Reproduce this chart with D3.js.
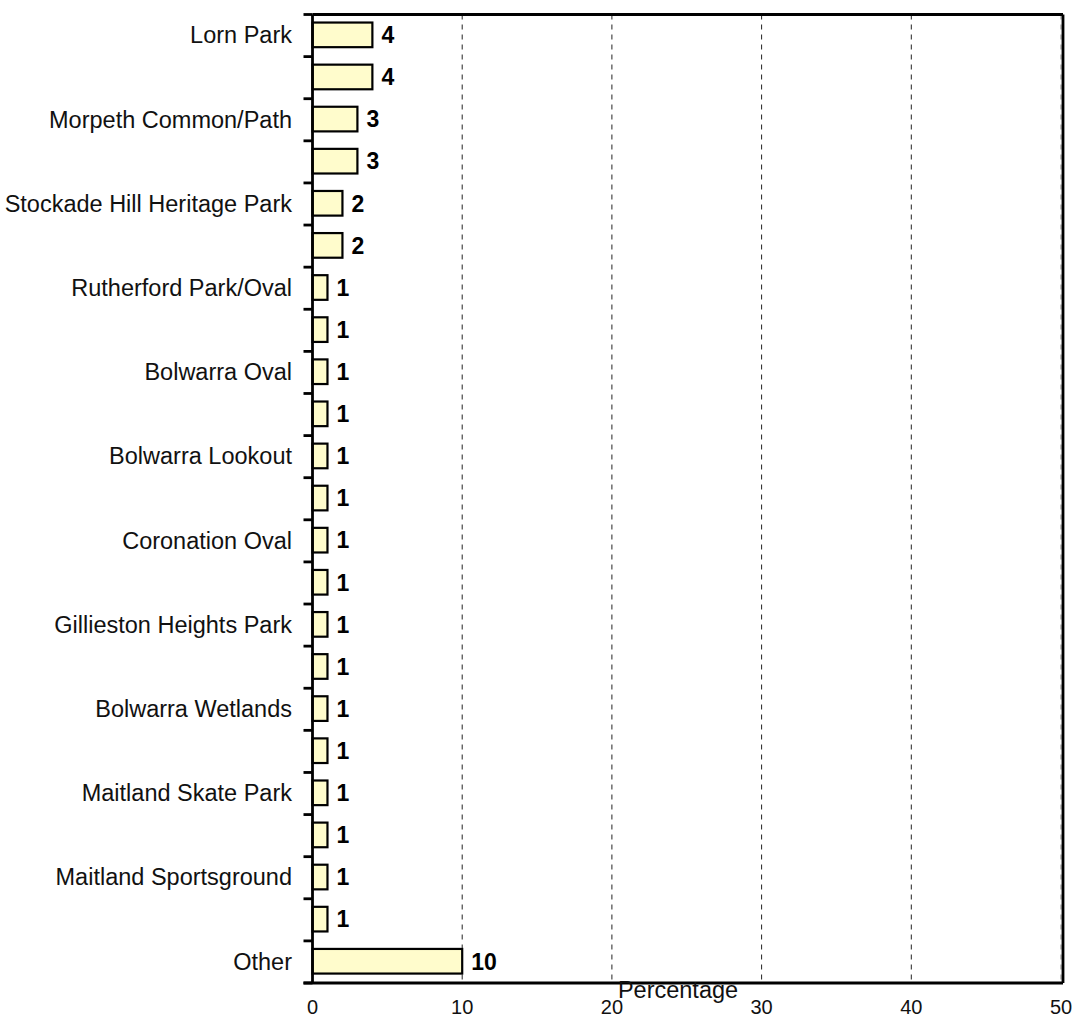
<!DOCTYPE html>
<html>
<head>
<meta charset="utf-8">
<script src="https://cdn.jsdelivr.net/npm/d3@7"></script>
<style>
  html, body { margin: 0; padding: 0; background: #fff; }
  svg { display: block; font-family: "Liberation Sans", Arial, sans-serif; }
</style>
</head>
<body>
<svg id="chart" width="1077" height="1018"></svg>
<script>
// Places visited: share of respondents (%)
const categories = [
  "Lorn Park", "", "Morpeth Common/Path", "", "Stockade Hill Heritage Park", "",
  "Rutherford Park/Oval", "", "Bolwarra Oval", "", "Bolwarra Lookout", "",
  "Coronation Oval", "", "Gillieston Heights Park", "", "Bolwarra Wetlands", "",
  "Maitland Skate Park", "", "Maitland Sportsground", "", "Other"
];
const values = [4, 4, 3, 3, 2, 2, 1, 1, 1, 1, 1, 1, 1, 1, 1, 1, 1, 1, 1, 1, 1, 1, 10];
const xTicks = [0, 10, 20, 30, 40, 50];
const xTitle = "Percentage";

(function draw() {
  const svg = d3.select("#chart");
  const x0 = 312.5, x1 = 1061;
  const y0 = 14.5, y1 = 983;

  const rows = categories.map((c, i) => ({ i, label: c, value: values[i] }));

  const x = d3.scaleLinear().domain([0, 50]).range([x0, x1]);
  const y = d3.scaleBand().domain(rows.map(d => d.i)).range([y0, y1])
    .paddingInner(0.415).paddingOuter(0.2075);

  // dashed gridlines
  svg.append("g").selectAll("line").data(xTicks.filter(t => t > 0)).join("line")
    .attr("x1", d => x(d)).attr("x2", d => x(d))
    .attr("y1", y0).attr("y2", y1)
    .attr("stroke", d => d === 50 ? "#888" : "#222")
    .attr("stroke-width", 1)
    .attr("stroke-dasharray", "5,5");

  // bars
  svg.append("g").selectAll("rect").data(rows).join("rect")
    .attr("x", x(0))
    .attr("y", d => y(d.i) - 0.7)
    .attr("width", d => x(d.value) - x(0))
    .attr("height", y.bandwidth())
    .attr("fill", "#FFFCCC")
    .attr("stroke", "#000")
    .attr("stroke-width", 2.2);

  // value labels
  svg.append("g").selectAll("text").data(rows).join("text")
    .attr("x", d => x(d.value) + 9)
    .attr("y", d => y(d.i) + y.bandwidth() / 2 - 0.7)
    .attr("dy", "0.36em")
    .attr("font-size", 23)
    .attr("font-weight", "bold")
    .attr("fill", "#000")
    .text(d => d.value);

  // frame: top and right borders
  svg.append("line").attr("x1", x0).attr("x2", x1 + 2).attr("y1", y0).attr("y2", y0)
    .attr("stroke", "#000").attr("stroke-width", 2.8);
  svg.append("line").attr("x1", x1 + 2).attr("x2", x1 + 2).attr("y1", y0).attr("y2", y1)
    .attr("stroke", "#000").attr("stroke-width", 2.8);

  // y axis with ticks at band boundaries
  const yAxisG = svg.append("g");
  yAxisG.append("line").attr("x1", x0).attr("x2", x0).attr("y1", y0).attr("y2", y1)
    .attr("stroke", "#000").attr("stroke-width", 2.8);
  const boundaries = d3.range(rows.length + 1).map(k => y0 + k * (y1 - y0) / rows.length);
  yAxisG.selectAll("line.tick").data(boundaries).join("line")
    .attr("class", "tick")
    .attr("x1", x0 - 9).attr("x2", x0)
    .attr("y1", d => d).attr("y2", d => d)
    .attr("stroke", "#000").attr("stroke-width", 2.8);
  yAxisG.selectAll("text").data(rows.filter(d => d.label)).join("text")
    .attr("x", 292)
    .attr("y", d => y(d.i) + y.bandwidth() / 2 - 0.7)
    .attr("dy", "0.36em")
    .attr("text-anchor", "end")
    .attr("font-size", 23.5)
    .attr("fill", "#111")
    .text(d => d.label);

  // x axis
  const xAxisG = svg.append("g");
  xAxisG.append("line").attr("x1", x0 - 9).attr("x2", x1 + 2).attr("y1", y1).attr("y2", y1)
    .attr("stroke", "#000").attr("stroke-width", 2.8);
  xAxisG.selectAll("text").data(xTicks).join("text")
    .attr("x", d => x(d))
    .attr("y", 1014)
    .attr("text-anchor", "middle")
    .attr("font-size", 20)
    .attr("fill", "#111")
    .text(d => d);

  svg.append("text")
    .attr("x", 678)
    .attr("y", 998)
    .attr("text-anchor", "middle")
    .attr("font-size", 23.5)
    .attr("fill", "#111")
    .text(xTitle);
})();
</script>
</body>
</html>
